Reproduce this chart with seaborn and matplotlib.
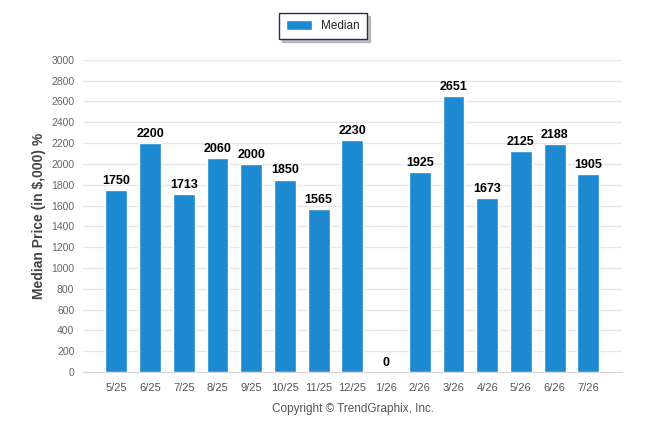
import matplotlib
matplotlib.use('Agg')
import matplotlib.pyplot as plt
import seaborn as sns
import pandas as pd

# Chart data
months = ['5/25', '6/25', '7/25', '8/25', '9/25', '10/25', '11/25', '12/25',
          '1/26', '2/26', '3/26', '4/26', '5/26', '6/26', '7/26']
median_price = [1750, 2200, 1713, 2060, 2000, 1850, 1565, 2230,
                0, 1925, 2651, 1673, 2125, 2188, 1905]

df = pd.DataFrame({'month': months, 'median': median_price})

sns.set_style('white')
plt.rcParams['font.family'] = ['Liberation Sans', 'DejaVu Sans']

bar_color = '#1c89d0'
fig = plt.figure(figsize=(6.46, 4.34), dpi=100)
ax = fig.add_axes([0.128, 0.143, 0.835, 0.719])

sns.barplot(x='month', y='median', data=df, color=bar_color, width=0.65,
            saturation=1, ax=ax, label='Median', zorder=3)

# value labels on top of bars
for i, v in enumerate(median_price):
    ax.text(i, v + 30, str(v), ha='center', va='bottom', fontsize=9,
            fontweight='bold', color='black', zorder=4)

ax.set_xlim(-1, 15)
ax.set_ylim(0, 3000)
ax.set_yticks(range(0, 3001, 200))
ax.set_xticks(range(-1, 16))
ax.set_xticklabels([''] + months + [''])

ax.grid(axis='y', color='#e6e6e6', linewidth=1, zorder=0)
ax.grid(axis='x', visible=False)
for side in ['left', 'top', 'right']:
    ax.spines[side].set_visible(False)
ax.spines['bottom'].set_color('#d8d8d8')

ax.tick_params(axis='x', length=5, color='#d8d8d8', labelsize=8,
               labelcolor='#555555', pad=3)
ax.tick_params(axis='y', length=0, labelsize=7.5, labelcolor='#666666', pad=6)

ax.set_xlabel('')
ax.set_ylabel('Median Price (in $,000) %', fontsize=10, fontweight='bold',
              color='#444444', labelpad=4)

fig.text(0.546, 0.058, 'Copyright © TrendGraphix, Inc.', ha='center',
         va='center', fontsize=8.5, color='#555555')

leg = ax.legend(loc='center', bbox_to_anchor=(0.5, 0.94),
                bbox_transform=fig.transFigure, frameon=True, fancybox=False,
                shadow={'ox': 2, 'oy': -2, 'color': '#999999', 'alpha': 0.6},
                edgecolor='#1f2f50', fontsize=8.5,
                handlelength=2.2, handleheight=0.9, borderpad=0.6)
leg.get_frame().set_linewidth(1)

fig.savefig('out.png', dpi=100)
